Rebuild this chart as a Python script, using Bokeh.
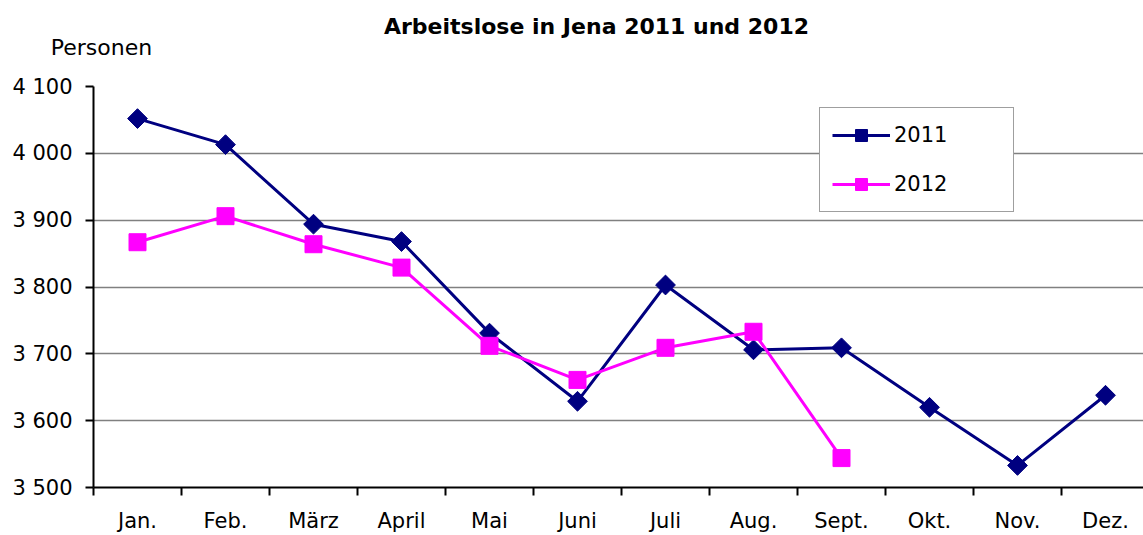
from bokeh.plotting import figure
from bokeh.models import FixedTicker, Range1d, LinearAxis, Legend, LegendItem
from bokeh.embed import file_html
from bokeh.resources import INLINE

months = ["Jan.", "Feb.", "März", "April", "Mai", "Juni", "Juli", "Aug.", "Sept.", "Okt.", "Nov.", "Dez."]
val_2011 = [4052, 4013, 3894, 3868, 3731, 3629, 3803, 3706, 3709, 3620, 3533, 3638]
val_2012 = [3867, 3906, 3864, 3829, 3712, 3661, 3709, 3733, 3544]
y_ticks = [3500, 3600, 3700, 3800, 3900, 4000, 4100]
y_tick_labels = ["3 500", "3 600", "3 700", "3 800", "3 900", "4 000", "4 100"]
title_text = "Arbeitslose in Jena 2011 und 2012"
unit_text = "Personen"

FONT = "DejaVu Sans"
x_centers = [i + 0.5 for i in range(len(months))]
x_bounds = list(range(len(months) + 1))

PX_X = 88.0            # pixels per month
FRAME_LEFT = 93

p = figure(width=1143, height=535, output_backend="svg", toolbar_location=None,
           title_location=None,
           x_range=Range1d(0, 1050 / PX_X), y_range=Range1d(3500, 4100),
           min_border_left=FRAME_LEFT, min_border_right=0, min_border_bottom=0,
           min_border_top=86)
p.outline_line_color = None
p.background_fill_color = "white"
p.border_fill_color = "white"

xa = p.below[0]
ya = p.left[0]


def text_axis(xpos, text, bold, standoff, size):
    ax = LinearAxis(ticker=FixedTicker(ticks=[xpos]),
                    major_label_overrides={xpos: text})
    ax.axis_line_color = None
    ax.major_tick_line_color = None
    ax.minor_tick_line_color = None
    ax.major_tick_out = 0
    ax.major_tick_in = 0
    ax.minor_tick_out = 0
    ax.major_label_standoff = standoff
    ax.major_label_text_font = FONT
    ax.major_label_text_font_size = size
    ax.major_label_text_font_style = "bold" if bold else "normal"
    ax.major_label_text_color = "black"
    return ax


# unit text ("Personen") just above the frame, title above that
p.add_layout(text_axis((101 - FRAME_LEFT) / PX_X, unit_text, False, 27, "22px"), "above")
p.add_layout(text_axis((596 - FRAME_LEFT) / PX_X, title_text, True, -7, "22px"), "above")

# x axis (months)
xa.ticker = FixedTicker(ticks=x_centers, minor_ticks=x_bounds)
xa.major_label_overrides = {c: m for c, m in zip(x_centers, months)}
xa.major_tick_out = 0
xa.major_tick_in = 0
xa.minor_tick_out = 8
xa.minor_tick_in = 0
xa.minor_tick_line_color = "black"
xa.minor_tick_line_width = 2
xa.axis_line_color = "black"
xa.axis_line_width = 2
xa.major_label_standoff = 13
xa.major_label_text_font = FONT
xa.major_label_text_font_size = "21px"
xa.major_label_text_color = "black"

# y axis
ya.ticker = FixedTicker(ticks=y_ticks)
ya.major_label_overrides = {t_: l for t_, l in zip(y_ticks, y_tick_labels)}
ya.minor_tick_line_color = None
ya.major_tick_out = 8
ya.major_tick_in = 0
ya.major_tick_line_color = "black"
ya.major_tick_line_width = 2
ya.axis_line_color = "black"
ya.axis_line_width = 2
ya.major_label_standoff = 13
ya.major_label_text_font = FONT
ya.major_label_text_font_size = "21px"
ya.major_label_text_color = "black"

p.xgrid.grid_line_color = None
p.ygrid.grid_line_color = "#808080"
p.ygrid.grid_line_width = 1.5

navy = "#000080"
mag = "#FF00FF"
l1 = p.line(x_centers, val_2011, line_color=navy, line_width=3)
m1 = p.scatter(x_centers, val_2011, marker="square", size=14, angle=0.785398,
               fill_color=navy, line_color=navy)
x12 = x_centers[:len(val_2012)]
l2 = p.line(x12, val_2012, line_color=mag, line_width=3)
m2 = p.scatter(x12, val_2012, marker="square", size=17, fill_color=mag, line_color=mag)

legend = Legend(items=[LegendItem(label="2011", renderers=[l1, m1]),
                       LegendItem(label="2012", renderers=[l2, m2])],
                location=(726, 275))
legend.padding = 12
legend.spacing = 19
legend.glyph_height = 30
legend.glyph_width = 58
legend.label_height = 20
legend.label_width = 107
legend.label_standoff = 4
legend.margin = 0
legend.label_text_font = FONT
legend.label_text_font_size = "21px"
legend.label_text_color = "black"
legend.border_line_color = "#404040"
legend.border_line_width = 1
legend.background_fill_color = "white"
legend.background_fill_alpha = 1
p.add_layout(legend, "center")

open("out.html", "w").write(file_html(p, INLINE))
